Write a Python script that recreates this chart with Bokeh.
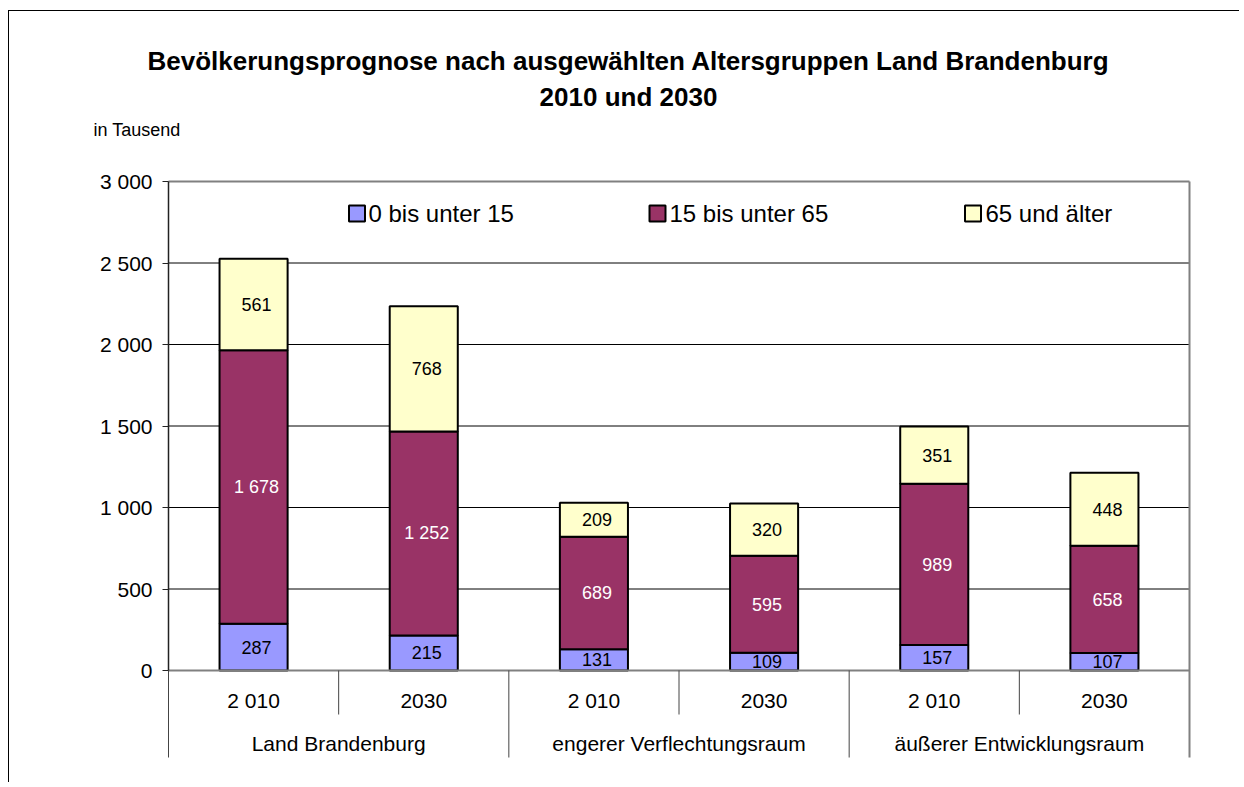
from bokeh.plotting import figure
from bokeh.models import FixedTicker, ColumnDataSource, Range1d, LinearAxis
from bokeh.core.properties import value
from bokeh.embed import file_html
from bokeh.resources import INLINE

# ---------------- data ----------------
regions = ["Land Brandenburg", "engerer Verflechtungsraum", "äußerer Entwicklungsraum"]
years = ["2 010", "2030"]
series = ["0 bis unter 15", "15 bis unter 65", "65 und älter"]
young = [287, 215, 131, 109, 157, 107]
middle = [1678, 1252, 689, 595, 989, 658]
old = [561, 768, 209, 320, 351, 448]
y_ticks = [0, 500, 1000, 1500, 2000, 2500, 3000]
y_tick_labels = ["0", "500", "1 000", "1 500", "2 000", "2 500", "3 000"]
title_lines = ["Bevölkerungsprognose nach ausgewählten Altersgruppen Land Brandenburg",
               "2010 und 2030"]
unit_label = "in Tausend"

# ---------------- styles ----------------
colors = ["#9999FF", "#993366", "#FFFFCC"]
label_colors = ["#000000", "#FFFFFF", "#000000"]
FONT = "Liberation Sans"

# page geometry (pixels)
ORIGIN_X = 9            # canvas starts after 8px margin + 1px border
ORIGIN_Y = 11           # canvas starts after 10px margin + 1px border
W, H = 1231, 772
LEFT_PANEL = 80
PLOT_L, PLOT_R = 168, 1189
Y0_PX, Y3000_PX = 670, 181
BOTTOM_PX = 757
px_per_x = (PLOT_R - PLOT_L) / 6.0
units_per_px = 3000.0 / (Y0_PX - Y3000_PX)


def X(px):
    return (px - PLOT_L) / px_per_x


def Y(py):
    return (Y0_PX - py) * units_per_px


p = figure(width=W, height=H, output_backend="svg", toolbar_location=None,
           x_range=Range1d(X(ORIGIN_X + LEFT_PANEL), X(ORIGIN_X + W)),
           y_range=Range1d(Y(ORIGIN_Y + H), Y(ORIGIN_Y)),
           x_axis_type=None, y_axis_type=None,
           min_border_left=LEFT_PANEL, min_border_right=0,
           min_border_top=0, min_border_bottom=0,
           background_fill_color="white", border_fill_color="white")
p.outline_line_color = None
p.styles = {"margin-left": "8px", "margin-top": "10px",
            "border-left": "1px solid #000000", "border-top": "1px solid #000000"}

p.xgrid.visible = False
p.ygrid.visible = False

# y axis, fixed at x = 0
ax = LinearAxis(fixed_location=0)
ax.ticker = FixedTicker(ticks=y_ticks)
ax.major_label_overrides = {t: l for t, l in zip(y_ticks, y_tick_labels)}
ax.bounds = (0, 3000)
ax.axis_line_color = "#222222"
ax.axis_line_width = 1.5
ax.major_tick_line_color = "#222222"
ax.major_tick_out = 6
ax.major_tick_in = 0
ax.minor_tick_line_color = None
ax.major_label_text_font = FONT
ax.major_label_text_font_size = "21px"
ax.major_label_text_color = "#000000"
ax.major_label_standoff = 10
p.add_layout(ax, "left")

# horizontal gridlines
grid_y = y_ticks[1:-1]
p.segment(x0=[0] * len(grid_y), y0=grid_y, x1=[6] * len(grid_y), y1=grid_y,
          line_color="#000000", line_width=1)

# bars
xs = [i + 0.5 for i in range(len(young))]
src = ColumnDataSource(dict(x=xs, young=young, middle=middle, old=old))
p.vbar_stack(["young", "middle", "old"], x="x", width=0.4, source=src,
             fill_color=colors, line_color="#000000", line_width=2)

# value labels
lx, ly, lt, lc = [], [], [], []
for i in range(len(young)):
    base = 0
    for k, vals in enumerate([young, middle, old]):
        v = vals[i]
        lx.append(xs[i])
        ly.append(base + v / 2.0)
        lt.append(f"{v:,}".replace(",", " "))
        lc.append(label_colors[k])
        base += v
p.text(x=lx, y=ly, text=lt, text_color=lc, text_align="center", text_baseline="middle",
       text_font=value(FONT), text_font_size="18px", x_offset=3)

# plot-area border: top + right (grey), category axis line (grey)
p.segment(x0=[0, 6, 0], y0=[3000, 3000, 0], x1=[6, 6, 6], y1=[3000, Y(BOTTOM_PX), 0],
          line_color="#808080", line_width=2)

# category separators
inner = [1, 3, 5]
outer = [0, 2, 4]
p.segment(x0=inner, y0=[0] * 3, x1=inner, y1=[Y(714)] * 3, line_color="#444444", line_width=1)
p.segment(x0=outer, y0=[0] * 3, x1=outer, y1=[Y(BOTTOM_PX)] * 3, line_color="#444444", line_width=1)

# category labels
sub_t = [years[i % 2] for i in range(6)]
p.text(x=xs, y=[Y(700)] * 6, text=sub_t, text_align="center", text_baseline="middle",
       text_font=value(FONT), text_font_size="21px", text_color="#000000")
grp_x = [2 * j + 1 for j in range(3)]
p.text(x=grp_x, y=[Y(743)] * 3, text=regions, text_align="center", text_baseline="middle",
       text_font=value(FONT), text_font_size="21px", text_color="#000000")

# legend (manual)
leg_sq_x = [X(356.5), X(657), X(972.5)]
leg_tx_x = [X(368), X(669), X(985)]
p.scatter(x=leg_sq_x, y=[Y(213)] * 3, marker="square", size=16, fill_color=colors,
          line_color="#000000", line_width=2)
p.text(x=leg_tx_x, y=[Y(213)] * 3, text=series, text_align="left", text_baseline="middle",
       text_font=value(FONT), text_font_size="24px", text_color="#000000")

# title & unit label
p.text(x=[X(628)] * 2, y=[Y(60), Y(96)], text=title_lines, text_align="center",
       text_baseline="middle", text_font=value(FONT), text_font_size="26px",
       text_font_style="bold", text_color="#000000")
p.text(x=[X(93)], y=[Y(129)], text=[unit_label], text_align="left",
       text_baseline="middle", text_font=value(FONT), text_font_size="18px",
       text_color="#000000")

open("out.html", "w").write(file_html(p, INLINE))
